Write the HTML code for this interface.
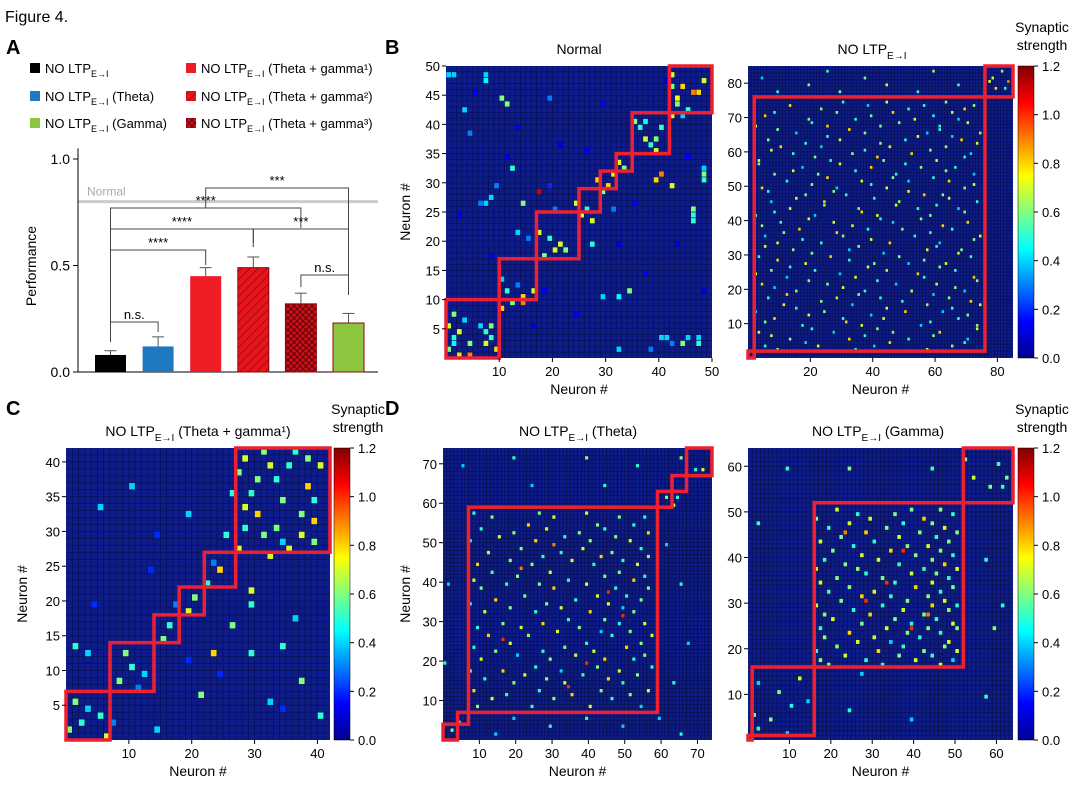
<!DOCTYPE html>
<html><head><meta charset="utf-8"><style>
body{margin:0;background:#fff;}
svg{display:block;font-family:"Liberation Sans",Arial,sans-serif;}
</style></head><body>
<svg id="fig" width="1080" height="788" viewBox="0 0 1080 788" xmlns="http://www.w3.org/2000/svg">
<defs>
<linearGradient id="jet" x1="0" y1="1" x2="0" y2="0">
<stop offset="0" stop-color="#00008f"/><stop offset="0.125" stop-color="#0000ff"/><stop offset="0.375" stop-color="#00ffff"/><stop offset="0.625" stop-color="#ffff00"/><stop offset="0.875" stop-color="#ff0000"/><stop offset="1" stop-color="#800000"/>
</linearGradient>
<pattern id="hatch1" width="6" height="6" patternUnits="userSpaceOnUse" patternTransform="rotate(45)"><rect width="6" height="6" fill="#e8141c"/><line x1="0" y1="0" x2="0" y2="6" stroke="#8a0a0e" stroke-width="1.5"/></pattern>
<pattern id="hatch2" width="6" height="6" patternUnits="userSpaceOnUse"><rect width="6" height="6" fill="#d0101a"/><path d="M0 0L6 6M6 0L0 6" stroke="#6a0508" stroke-width="1.2"/></pattern>
</defs>
<text x="5" y="22" font-size="16">Figure 4.</text>
<text x="6" y="54" font-size="20" font-weight="bold">A</text>
<text x="385" y="54" font-size="20" font-weight="bold">B</text>
<text x="6" y="415" font-size="20" font-weight="bold">C</text>
<text x="385" y="415" font-size="20" font-weight="bold">D</text>
<g id="legend" font-size="13"></g>
<g id="bars"></g>
<g id="maps"></g>
</svg>
<script>
// ---------- Bar chart data ----------
const barCategories=["NO LTP","Theta","Theta+gamma1","Theta+gamma2","Theta+gamma3","Gamma"];
const barValues=[0.08,0.12,0.45,0.49,0.32,0.23];
const barErrors=[0.02,0.045,0.04,0.05,0.05,0.045];
const barFills=["#000","#1f78c0","#ee1c25","url(#hatch1)","url(#hatch2)","#8cc63f"];
const yTicks=[0.0,0.5,1.0];
const normalLevel=0.8;

// ---------- Heatmap data: [x, y, value] ----------
const normalCells=[[1,2,.6],[2,4,.5],[3,5,.7],[5,3,.6],[4,7,.4],[8,3,.7],[9,4,.5],[2,8,.6],[7,6,.4],[3,1,.8],[5,1,.9],[9,6,.6],[1,6,.7],[2,3,.45],[8,5,.5],
[11,9,.8],[13,10,.6],[15,11,.8],[15,10,.9],[12,12,.5],[14,13,.3],[11,14,.4],[17,12,.7],
[19,18,.6],[21,19,.7],[22,20,.7],[23,19,.6],[20,21,.5],[18,22,.7],[26,25,.7],[27,26,.5],[25,27,.7],[28,24,.7],
[30,29,.6],[31,30,.8],[29,31,.8],[32,32,.7],[34,33,.6],[33,34,.7],
[36,41,.6],[37,40,.5],[38,38,.7],[39,37,.5],[40,38,.6],[41,40,.5],[40,36,.7],[38,41,.45],
[43,49,.7],[45,47,.8],[44,44,.6],[47,46,.9],[48,46,.8],[49,48,.7],[46,43,.5],[45,42,.4],[43,42,.7],[43,47,.6],[44,45,.75],
[1,49,.4],[2,49,.4],[8,49,.4],[8,48,.45],[11,45,.6],[12,44,.6],[4,43,.4],[5,39,.3],[10,30,.3],[9,28,.4],[8,27,.4],[7,27,.3],[14,22,.4],[16,21,.3],[15,27,.6],[20,30,.2],[28,20,.5],[30,11,.4],[40,31,.8],[41,32,.9],[43,30,.7],[49,31,.5],[49,32,.6],[49,33,.4],[47,26,.6],[47,25,.5],[47,24,.5],[46,4,.4],[45,3,.6],[48,4,.4],[48,3,.5],[43,3,.3],[42,4,.4],[41,4,.4],[33,2,.4],[39,2,.3],[32,26,.3],[13,33,.5],[20,45,.3],[10,2,.8],[21,26,.3],[18,29,1.1],[35,12,.6],[33,11,.45],
[6,46,.15],[14,40,.15],[22,37,.12],[30,44,.15],[36,27,.15],[44,20,.12],[25,8,.15],[17,6,.12],[38,15,.15],[49,12,.12],[27,36,.15],[9,18,.15],[42,48,.12],[19,12,.15],[33,20,.12],[46,35,.15],[3,25,.15],[12,35,.12]];

// dense maps: rows of [y, x1, v1, x2, v2, ...]
const noLtpRows=[
[3,10,.6,35,.5,58,.7],[4,6,.5,23,.7,41,.4,66,.6],[5,19,.4,46,.8,70,.5],[6,14,.6,33,.8,52,.5,71,.4],[7,8,.7,38,.5,60,.6],
[8,4,.7,28,.4,47,.6,62,.8],[9,21,.5,42,.6,74,.7],[10,18,.5,37,.7,56,.4,74,.6],[11,6,.6,32,.8,59,.5],[12,9,.8,31,.5,44,.7,68,.5],
[13,20,.7,40,.4,71,.6],[14,3,.4,25,.6,51,.8,63,.4],[15,16,.5,45,.7,66,.5],[16,12,.7,34,.4,58,.6,75,.7],[17,24,.6,50,.5,72,.8],
[18,7,.5,29,.8,43,.5,65,.6],[19,13,.8,36,.6,60,.4],[20,16,.6,38,.5,53,.7,70,.4],[21,9,.4,31,.7,67,.6],[22,5,.8,26,.6,48,.4,61,.7],
[23,20,.6,42,.5,74,.6],[24,13,.4,35,.7,57,.5,73,.8],[25,3,.7,30,.4,55,.8],[26,8,.6,22,.5,45,.8,67,.5],[27,14,.5,39,.7,62,.6],
[28,19,.7,41,.6,52,.4,64,.7],[29,10,.8,33,.5,57,.6],[30,4,.5,27,.8,49,.6,72,.5],[31,21,.6,44,.4,68,.7],[32,15,.6,33,.4,58,.7,69,.6],
[33,6,.7,36,.6,61,.5],[34,10,.7,24,.5,46,.8,62,.4],[35,18,.5,40,.7,73,.6],[36,6,.4,31,.6,54,.5,75,.7],[37,12,.6,29,.8,59,.5],
[38,17,.8,39,.5,50,.6,66,.5],[39,5,.6,34,.7,63,.8],[40,11,.5,28,.7,47,.4,71,.8],[41,20,.7,43,.5,56,.6],[42,3,.6,22,.4,42,.7,59,.6],
[43,9,.5,37,.8,70,.6],[44,14,.7,36,.6,55,.5,68,.4],[45,25,.6,48,.7,61,.5],[46,8,.4,25,.8,49,.6,74,.5],[47,16,.7,41,.5,65,.7],
[48,19,.6,32,.5,57,.8,63,.6],[49,7,.5,28,.6,52,.7],[50,5,.8,29,.4,45,.7,70,.6],[51,21,.6,40,.5,73,.7],[52,13,.5,37,.7,52,.4,65,.8],
[53,26,.8,47,.6,60,.5],[54,9,.6,23,.6,48,.5,73,.4],[55,15,.7,35,.5,64,.6],[56,18,.4,40,.8,56,.6,67,.5],[57,4,.6,30,.7,51,.5],
[58,4,.7,27,.5,44,.6,61,.7],[59,22,.6,42,.8,70,.5],[60,15,.5,34,.6,53,.8,72,.4],[61,8,.7,38,.5,59,.6],[62,11,.8,24,.4,46,.7,64,.6],
[63,19,.5,43,.6,74,.7],[64,7,.6,30,.7,51,.5,69,.8],[65,26,.5,55,.7,66,.4],[66,16,.4,38,.6,58,.4,75,.6],[67,10,.6,33,.8,62,.5],
[68,3,.7,26,.8,43,.6,62,.5],[69,21,.5,49,.6,71,.7],[70,20,.6,35,.5,54,.7,68,.4],[71,6,.8,40,.6,60,.5],[72,9,.5,29,.6,47,.8,66,.7],
[73,24,.6,52,.5,70,.8],[74,14,.8,39,.4,57,.5,73,.6],[75,31,.5,45,.7,64,.6],
[78,10,.5,30,.6,55,.5],[80,20,.6,45,.7,68,.5],[82,5,.4,38,.6,79,.7],[84,26,.5,60,.6,82,.6],[79,80,.8,83,.5],[81,78,.7,84,.9]];
const cCells=[[1,2,.6],[3,3,.5],[4,5,.4],[2,6,.6],[6,4,.5],[7,1,.7],[9,9,.6],[11,11,.5],[13,10,.4],[10,13,.6],[16,15,.6],[17,17,.5],[20,19,.7],[21,21,.6],
[23,23,.5],[25,25,.8],[28,39,.6],[29,41,.7],[30,36,.5],[31,33,.8],[32,30,.6],[33,40,.7],[34,38,.5],[35,35,.6],[36,28,.7],[37,42,.5],[38,33,.6],[39,37,.8],
[40,29,.6],[41,40,.7],[29,31,.5],[34,31,.6],[40,35,.5],[28,28,.7],[11,37,.4],[6,34,.4],[20,33,.4],[2,14,.5],[4,13,.4],[26,30,.5],[30,22,.7],[30,20,.5],
[35,14,.5],[38,9,.6],[33,6,.4],[15,2,.4],[22,7,.6],[27,17,.6],[30,13,.5],[24,13,.8],[37,18,.4],[41,4,.5],
[29,34,.7],[31,38,.6],[36,40,.5],[38,30,.7],[32,42,.6],[40,32,.8],[27,36,.5],[35,29,.4],[39,41,.6],[33,27,.7],
[8,3,.3],[12,8,.3],[18,20,.3],[24,26,.3],[5,20,.2],[15,30,.2],[25,10,.2],[35,5,.2],[14,25,.2],[20,12,.2]];
const thetaRows=[
[9,10,.6,25,.5,41,.7,55,.4],[11,14,.7,31,.6,47,.5],[12,18,.5,36,.8,52,.6],[13,9,.8,27,.5,44,.6,57,.7],[15,20,.6,34,.7,50,.5],
[16,12,.5,29,.6,46,.8],[17,23,.7,39,.5,54,.6],[18,8,.6,17,.8,33,.4,49,.7],[19,26,.5,43,.6,58,.5],[21,11,.7,30,.6,45,.8,53,.5],
[22,21,.4,37,.7,56,.6],[23,15,.6,28,.5,42,.7],[24,9,.5,34,.6,51,.8],[25,19,.7,40,.5,55,.6],[27,13,.8,24,.6,47,.5,58,.7],
[28,32,.7,44,.4,52,.6],[29,10,.5,22,.7,38,.6],[30,17,.6,28,.8,49,.5,56,.7],[31,35,.5,45,.6],[33,12,.7,26,.5,41,.8,53,.6],
[34,19,.6,33,.7,50,.4],[35,8,.5,29,.6,46,.7],[36,15,.8,37,.5,55,.6],[37,23,.6,43,.7,51,.5],[39,11,.6,31,.8,48,.5,57,.6],
[40,18,.5,27,.6,40,.7],[41,9,.7,35,.5,53,.8],[42,21,.6,45,.6,56,.5],[43,14,.5,30,.7,49,.6],[45,10,.8,25,.6,42,.5,54,.7],
[46,19,.6,36,.7,50,.5],[47,28,.5,44,.8,57,.6],[48,13,.7,33,.5,47,.6],[49,22,.6,39,.7,55,.5],[51,8,.5,26,.8,41,.6,52,.7],
[52,16,.7,34,.5,48,.6],[53,20,.6,38,.6,57,.8],[54,11,.5,29,.7,45,.5],[55,24,.8,43,.6,53,.5],[57,14,.6,31,.7,49,.6,56,.5],
[58,9,.5,27,.6,40,.7],[20,40,1.0],[26,17,1.0],[32,50,1.0],[44,22,.9],[38,46,1.0],[14,35,1.0],[50,31,.9],
[72,20,.5,40,.6,66,.6],[69,72,.7,70,.5],[70,6,.4,54,.5],[65,25,.4,45,.5],[62,62,.6,65,.5],[60,64,.7],[3,3,.6],[5,5,.5],
[6,20,.4,40,.5,60,.4],[4,30,.5,50,.4],[2,15,.4,66,.5],[40,66,.5],[25,68,.4],[50,62,.4],[15,64,.5],[40,2,.4],[20,1,.5]];
const gammaRows=[
[17,20,.6,33,.5,47,.7],[18,18,.6,29,.5,41,.7,50,.4],[19,24,.7,37,.6,45,.5],[20,17,.5,32,.8,43,.6,51,.7],[21,22,.6,38,.5,48,.6],
[22,27,.7,35,.4,49,.7],[23,19,.6,31,.7,42,.5],[24,25,.8,39,.6,47,.5],[25,18,.5,34,.7,44,.6,51,.6],[26,28,.6,40,.5,50,.7],
[27,21,.7,36,.6,46,.5],[28,19,.6,30,.8,43,.6],[29,26,.5,38,.7,49,.6],[30,17,.7,33,.5,45,.8,51,.5],[31,23,.6,39,.6,48,.7],
[32,28,.8,35,.5,44,.6],[33,20,.5,31,.7,47,.5],[34,25,.6,41,.8,50,.6],[35,18,.7,36,.5,45,.7],[36,22,.6,33,.6,49,.5],
[37,29,.5,40,.7,46,.6],[38,17,.8,27,.6,43,.5,51,.7],[39,24,.6,37,.5,48,.8],[40,19,.5,32,.7,45,.6],[41,28,.7,41,.6,50,.5],
[42,21,.6,35,.8,47,.6],[43,26,.5,39,.6,44,.7],[44,18,.7,31,.5,49,.6],[45,23,.6,37,.7,46,.5],[46,29,.8,42,.6,51,.6],
[47,20,.5,34,.6,48,.7],[48,25,.7,38,.5,45,.6],[49,17,.6,30,.7,43,.8],[50,27,.5,36,.6,50,.5],[51,22,.7,40,.6,47,.6],
[35,34,1.0],[42,38,1.0],[28,44,.9],[31,29,1.0],[46,24,.9],[25,40,1.0],
[3,3,.5],[5,6,.6],[8,11,.5],[11,8,.6],[13,3,.4],[14,13,.7],[9,15,.4],[6,2,.6],
[60,10,.5,25,.6,45,.5],[56,59,.6,62,.5],[58,55,.7,63,.6],[61,61,.5],[62,53,.6],[40,58,.5],[25,60,.6],[10,58,.5],[5,40,.4],[7,25,.5],[2,10,.4],[30,62,.5],[48,3,.5],[15,28,.4]];

// ---------- Block boundaries (neuron #) ----------
const normalBlocks=[0,10,17,25,29,32,35,42,50];
const noLtpBlocks=[0,2,76,85];
const cBlocks=[0,7,14,18,22,27,42];
const thetaBlocks=[0,4,7,59,63,67,74];
const gammaBlocks=[0,1,16,52,64];

const NS="http://www.w3.org/2000/svg";
const svg=document.getElementById('fig');
function mk(tag,attrs,parent,txt){const e=document.createElementNS(NS,tag);for(const k in attrs)e.setAttribute(k,attrs[k]);if(txt!==undefined)e.textContent=txt;(parent||svg).appendChild(e);return e;}
function jet(v){let t=Math.max(0,Math.min(1,v/1.2));
 const f=(x)=>Math.max(0,Math.min(1,x));
 const r=f(Math.min(4*t-1.5,-4*t+4.5)),g=f(Math.min(4*t-0.5,-4*t+3.5)),b=f(Math.min(4*t+0.5,-4*t+2.5));
 return `rgb(${Math.round(r*255)},${Math.round(g*255)},${Math.round(b*255)})`;}
function rowsToCells(rows){const out=[];rows.forEach(r=>{for(let k=1;k+1<r.length;k+=2)out.push([r[k],r[0],r[k+1]]);});return out;}

// ---------- Legend ----------
const leg=document.getElementById('legend');
const legendItems=[[30,73,"#000",""],[30,101,"#1f78c0"," (Theta)"],[30,128,"#8cc63f"," (Gamma)"],[186,73,"#ee1c25"," (Theta + gamma¹)"],[186,101,"url(#hatch1)"," (Theta + gamma²)"],[186,128,"url(#hatch2)"," (Theta + gamma³)"]];
legendItems.forEach(it=>{
 const g=mk('g',{},leg);
 
 
 mk('rect',{x:it[0],y:it[1]-10,width:10,height:10,fill:it[2]},g);
 const t=mk('text',{x:it[0]+15,y:it[1]},g);
 t.appendChild(document.createTextNode("NO LTP"));
 mk('tspan',{'font-size':9,dy:4},t,"E→I");
 mk('tspan',{dy:-4},t,it[3]);
});

// ---------- Bar chart ----------
const bg=document.getElementById('bars');
const y0=372,yk=213,bx0=95,bw=31,bstep=47.6;
const ys=v=>y0-v*yk;
mk('line',{x1:78,y1:ys(normalLevel),x2:378,y2:ys(normalLevel),stroke:"#ccc","stroke-width":3},bg);
mk('text',{x:87,y:ys(normalLevel)-6,'font-size':12,fill:"#aaa"},bg,"Normal");
mk('line',{x1:78,y1:ys(1.05),x2:78,y2:y0,stroke:"#000"},bg);
mk('line',{x1:78,y1:y0,x2:378,y2:y0,stroke:"#000"},bg);
yTicks.forEach(v=>{mk('line',{x1:73,y1:ys(v),x2:78,y2:ys(v),stroke:"#000"},bg);
 mk('text',{x:70,y:ys(v)+5,'font-size':14,'text-anchor':'end'},bg,v.toFixed(1));});
const yl=mk('text',{x:36,y:266,'font-size':14,'text-anchor':'middle',transform:'rotate(-90 36 266)'},bg,"Performance");

const barCx=[];
barValues.forEach((v,i)=>{
 const x=bx0+i*bstep;barCx.push(x+bw/2);
 const r=mk('rect',{x:x,y:ys(v),width:bw,height:v*yk,fill:barFills[i],stroke:i>=3?"#8a0a0e":"none"},bg);
 
 
 const e=barErrors[i];
 mk('line',{x1:x+bw/2,y1:ys(v),x2:x+bw/2,y2:ys(v+e),stroke:"#555"},bg);
 mk('line',{x1:x+bw/2-6,y1:ys(v+e),x2:x+bw/2+6,y2:ys(v+e),stroke:"#555"},bg);
});
function br(i,j,yy,lab,dy1,dy2){const a=barCx[i],b=barCx[j];
 mk('path',{d:`M${a} ${yy+dy1}V${yy}H${b}V${yy+dy2}`,fill:"none",stroke:"#444"},bg);
 mk('text',{x:(a+b)/2,y:yy-3,'font-size':13,'text-anchor':'middle'},bg,lab);}
br(0,1,322,"n.s.",20,10);
br(0,2,250,"****",90,15);
br(0,3,229,"****",110,18);
br(0,4,208,"****",130,20);
br(2,5,188,"***",20,100);
br(3,5,229,"***",14,18);
br(4,5,275,"n.s.",12,20);

// ---------- Heatmaps ----------
const mg=document.getElementById('maps');
function heat(name,X,Y,W,H,N,cells,blocks,xt,yt){
 const g=mk('g',{},mg);
 
 
 mk('rect',{x:X,y:Y,width:W,height:H,fill:"#0d1c8a"},g);
 const cw=W/N,ch=H/N;
 let d="";
 for(let k=1;k<N;k++){d+=`M${X+k*cw} ${Y}V${Y+H}M${X} ${Y+k*ch}H${X+W}`;}
 mk('path',{d:d,stroke:"#081050","stroke-width":0.7,fill:"none"},g);
 cells.forEach(c=>{
  const r=mk('rect',{x:X+(c[0]-1)*cw+0.3,y:Y+H-c[1]*ch+0.3,width:cw-0.6,height:ch-0.6,fill:jet(c[2])},g);
  
  
 });
 for(let b=0;b<blocks.length-1;b++){
  const a=blocks[b],e=blocks[b+1];
  mk('rect',{x:X+a*cw,y:Y+H-e*ch,width:(e-a)*cw,height:(e-a)*ch,fill:"none",stroke:"#ee2030","stroke-width":3.5},g);
 }
 xt.forEach(v=>{const x=X+v*cw;mk('line',{x1:x,y1:Y+H,x2:x,y2:Y+H+4,stroke:"#000"},g);
  mk('text',{x:x,y:Y+H+18,'font-size':13,'text-anchor':'middle'},g,v);});
 yt.forEach(v=>{const y=Y+H-v*ch;mk('line',{x1:X-4,y1:y,x2:X,y2:y,stroke:"#000"},g);
  mk('text',{x:X-6,y:y+5,'font-size':13,'text-anchor':'end'},g,v);});
 mk('text',{x:X+W/2,y:Y+H+36,'font-size':14,'text-anchor':'middle'},g,"Neuron #");
}
function ylab(x,y){mk('text',{x:x,y:y,'font-size':14,'text-anchor':'middle',transform:`rotate(-90 ${x} ${y})`},mg,"Neuron #");}
function ltpTitle(x,y,suffix){const t=mk('text',{x:x,y:y,'font-size':14,'text-anchor':'middle'},mg);
 t.appendChild(document.createTextNode("NO LTP"));mk('tspan',{'font-size':10,dy:5},t,"E→I");mk('tspan',{dy:-5},t,suffix);}
function cbar(X,Y,H){const g=mk('g',{},mg);
 
 
 mk('rect',{x:X,y:Y,width:16,height:H,fill:"url(#jet)",stroke:"#000","stroke-width":0.5},g);
 [0,0.2,0.4,0.6,0.8,1.0,1.2].forEach(v=>{const y=Y+H-v/1.2*H;
  mk('line',{x1:X+16,y1:y,x2:X+20,y2:y,stroke:"#000"},g);
  mk('text',{x:X+24,y:y+5,'font-size':13},g,v.toFixed(1));});
 mk('text',{x:X+24,y:Y-34,'font-size':14,'text-anchor':'middle'},g,"Synaptic");
 mk('text',{x:X+24,y:Y-16,'font-size':14,'text-anchor':'middle'},g,"strength");
}
heat('heatmap-normal',446,66,266,292,50,normalCells,normalBlocks,[10,20,30,40,50],[5,10,15,20,25,30,35,40,45,50]);
mk('text',{x:579,y:54,'font-size':14,'text-anchor':'middle'},mg,"Normal");
ylab(410,212);
heat('heatmap-no-ltp',748,66,265,292,85,rowsToCells(noLtpRows),noLtpBlocks,[20,40,60,80],[10,20,30,40,50,60,70,80]);
ltpTitle(872,54,"");
cbar(1018,66,292);
heat('heatmap-theta-gamma1',66,448,264,292,42,cCells,cBlocks,[10,20,30,40],[5,10,15,20,25,30,35,40]);
ltpTitle(198,436," (Theta + gamma¹)");
ylab(27,594);
cbar(334,448,292);
heat('heatmap-theta',443,448,269,292,74,rowsToCells(thetaRows),thetaBlocks,[10,20,30,40,50,60,70],[10,20,30,40,50,60,70]);
ltpTitle(578,436," (Theta)");
ylab(410,594);
heat('heatmap-gamma',748,448,265,292,64,rowsToCells(gammaRows),gammaBlocks,[10,20,30,40,50,60],[10,20,30,40,50,60]);
ltpTitle(878,436," (Gamma)");
cbar(1018,448,292);
</script>
</body></html>
